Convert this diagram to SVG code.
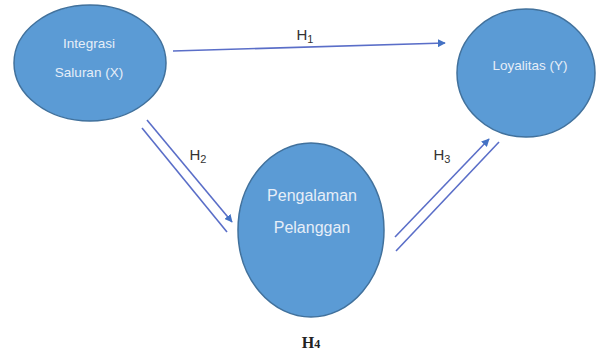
<svg xmlns="http://www.w3.org/2000/svg" width="596" height="353" viewBox="0 0 596 353">
<style>
.node{fill:#5b9bd5;stroke:#41719c;stroke-width:1.5}
.nt{font-family:"Liberation Sans",Arial,sans-serif;fill:#e6eef8;text-anchor:middle}
.ln{stroke:#5a6ec8;stroke-width:1.6;fill:none}
.h{font-family:"Liberation Sans",Arial,sans-serif;font-size:15px;fill:#333;text-anchor:middle}
</style>
<defs>
<marker id="ah" viewBox="0 0 10 10" refX="9" refY="5" markerWidth="5" markerHeight="5" orient="auto" markerUnits="strokeWidth">
<path d="M0,0 L10,5 L0,10 z" fill="#4472c4"/>
</marker>
</defs>
<g id="connectors">
<line class="ln" x1="173" y1="51" x2="445" y2="43" marker-end="url(#ah)"/>
<line class="ln" x1="147" y1="120" x2="232" y2="222" marker-end="url(#ah)"/>
<line class="ln" x1="142" y1="128" x2="227" y2="232"/>
<line class="ln" x1="395" y1="237" x2="489" y2="139" marker-end="url(#ah)"/>
<line class="ln" x1="396" y1="251" x2="499" y2="142"/>
<text class="h" x="305" y="40">H<tspan font-size="11" dy="3">1</tspan></text>
<text class="h" x="198" y="160">H<tspan font-size="11" dy="3">2</tspan></text>
<text class="h" x="442" y="160">H<tspan font-size="11" dy="3">3</tspan></text>
<text x="311" y="348" font-family="'Liberation Serif',serif" font-size="16" font-weight="bold" fill="#222" text-anchor="middle">H<tspan font-size="12">4</tspan></text>
</g>
<g id="node-x">
<ellipse class="node" cx="90" cy="63" rx="76" ry="58"/>
<text class="nt" x="89" y="48" font-size="13.5">Integrasi</text>
<text class="nt" x="89" y="77" font-size="13.5">Saluran (X)</text>
</g>
<g id="node-y">
<ellipse class="node" cx="526" cy="73" rx="69" ry="64"/>
<text class="nt" x="530" y="70" font-size="13.5">Loyalitas (Y)</text>
</g>
<g id="node-m">
<ellipse class="node" cx="311" cy="230" rx="73" ry="87"/>
<text class="nt" x="312" y="201" font-size="16">Pengalaman</text>
<text class="nt" x="312" y="233" font-size="16">Pelanggan</text>
</g>
</svg>
